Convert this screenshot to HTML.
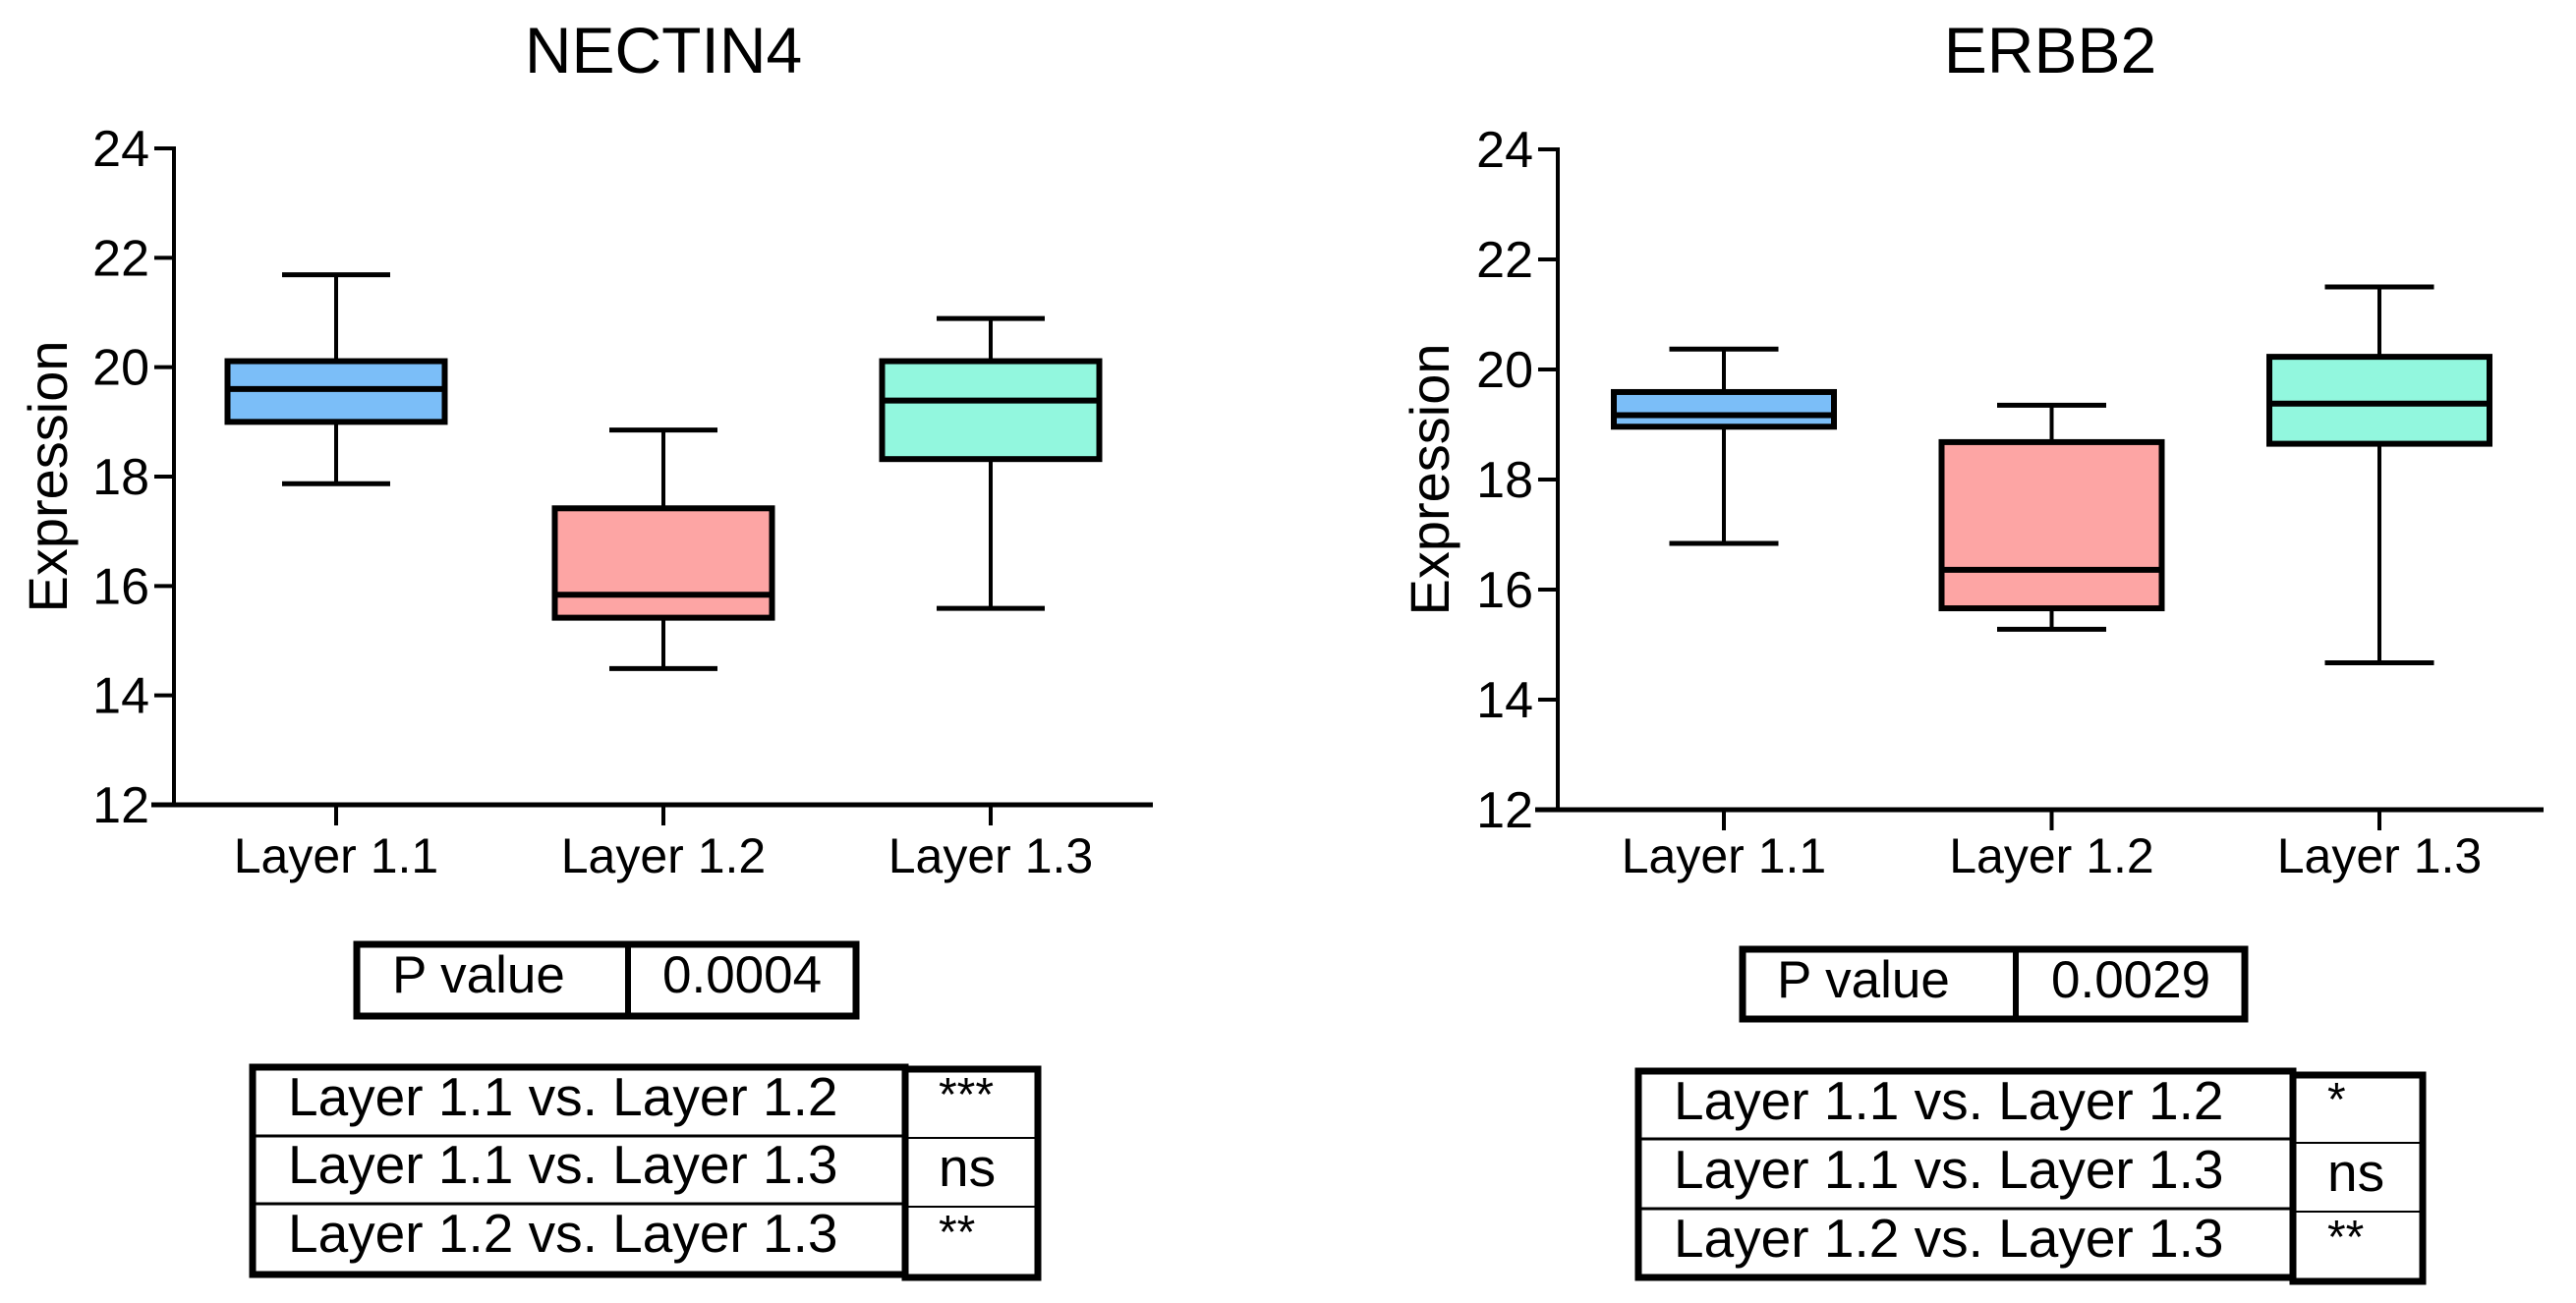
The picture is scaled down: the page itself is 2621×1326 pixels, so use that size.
<!DOCTYPE html>
<html><head><meta charset="utf-8"><style>
html,body{margin:0;padding:0;background:#fff;}
svg{display:block;font-family:"Liberation Sans",Arial,sans-serif;}
</style></head><body>
<svg id="svg" width="2621" height="1326" viewBox="0 0 2621 1326">
<g id="tables" fill="#000" font-size="53">
  <g>
    <rect x="363" y="961" width="508" height="73" fill="none" stroke="#000" stroke-width="7"/>
    <line x1="639" y1="961" x2="639" y2="1034" stroke="#000" stroke-width="6"/>
    <text x="399" y="1010">P value</text>
    <text x="674" y="1010">0.0004</text>
  </g>
  <g font-size="55">
    <rect x="257" y="1086" width="664" height="211" fill="none" stroke="#000" stroke-width="7"/>
    <rect x="921" y="1088" width="135" height="212" fill="none" stroke="#000" stroke-width="7"/>
    <line x1="257" y1="1156" x2="921" y2="1156" stroke="#000" stroke-width="3"/>
    <line x1="257" y1="1225" x2="921" y2="1225" stroke="#000" stroke-width="3"/>
    <line x1="921" y1="1158" x2="1056" y2="1158" stroke="#000" stroke-width="2"/>
    <line x1="921" y1="1228" x2="1056" y2="1228" stroke="#000" stroke-width="2"/>
    <text x="293" y="1135">Layer 1.1 vs. Layer 1.2</text>
    <text x="293" y="1204">Layer 1.1 vs. Layer 1.3</text>
    <text x="293" y="1274">Layer 1.2 vs. Layer 1.3</text>
    <text x="955" y="1130" font-size="48">***</text>
    <text x="955" y="1207">ns</text>
    <text x="955" y="1270" font-size="48">**</text>
  </g>
  <g>
    <rect x="1773" y="966" width="511" height="71" fill="none" stroke="#000" stroke-width="7"/>
    <line x1="2051" y1="966" x2="2051" y2="1037" stroke="#000" stroke-width="6"/>
    <text x="1808" y="1015">P value</text>
    <text x="2087" y="1015">0.0029</text>
  </g>
  <g font-size="55">
    <rect x="1667" y="1090" width="666" height="210" fill="none" stroke="#000" stroke-width="7"/>
    <rect x="2333" y="1094" width="132" height="210" fill="none" stroke="#000" stroke-width="7"/>
    <line x1="1667" y1="1159" x2="2333" y2="1159" stroke="#000" stroke-width="3"/>
    <line x1="1667" y1="1230" x2="2333" y2="1230" stroke="#000" stroke-width="3"/>
    <line x1="2333" y1="1163" x2="2465" y2="1163" stroke="#000" stroke-width="2"/>
    <line x1="2333" y1="1233" x2="2465" y2="1233" stroke="#000" stroke-width="2"/>
    <text x="1703" y="1139">Layer 1.1 vs. Layer 1.2</text>
    <text x="1703" y="1209">Layer 1.1 vs. Layer 1.3</text>
    <text x="1703" y="1279">Layer 1.2 vs. Layer 1.3</text>
    <text x="2368" y="1135" font-size="48">*</text>
    <text x="2368" y="1212">ns</text>
    <text x="2368" y="1275" font-size="48">**</text>
  </g>
</g>
</svg>
<script>
const categories = ["Layer 1.1", "Layer 1.2", "Layer 1.3"];
const yTicks = [12, 14, 16, 18, 20, 22, 24];
const colors = ["#7bbef8", "#fda5a4", "#92f7de"];
const nectinMin = [17.87, 14.49, 15.59];
const nectinQ1 = [19.0, 15.42, 18.32];
const nectinMedian = [19.60, 15.84, 19.39];
const nectinQ3 = [20.11, 17.42, 20.11];
const nectinMax = [21.69, 18.85, 20.89];
const erbbMin = [16.84, 15.28, 14.67];
const erbbQ1 = [18.96, 15.66, 18.65];
const erbbMedian = [19.17, 16.36, 19.38];
const erbbQ3 = [19.59, 18.68, 20.23];
const erbbMax = [20.37, 19.35, 21.50];

const NS = "http://www.w3.org/2000/svg";
const svg = document.getElementById("svg");
function mk(tag, attrs, parent) {
  const e = document.createElementNS(NS, tag);
  for (const k in attrs) e.setAttribute(k, attrs[k]);
  parent.appendChild(e);
  return e;
}
function drawPanel(cfg) {
  const g = mk("g", {}, svg);
  
  
  const yMin = 12, yMax = 24;
  const yScale = v => cfg.yBottom - (v - yMin) / (yMax - yMin) * (cfg.yBottom - cfg.yTop);
  const xScale = i => cfg.x0 + i * cfg.step;
  const t = mk("text", {x: cfg.titleX, y: 74, "font-size": 66, "text-anchor": "middle"}, g);
  t.textContent = cfg.title;
  
  
  const yl = mk("text", {x: 0, y: 0, "font-size": 56, "text-anchor": "middle", transform: `translate(${cfg.ylabX},${(cfg.yTop + cfg.yBottom) / 2}) rotate(-90)`}, g);
  yl.textContent = "Expression";
  
  
  const ya = mk("line", {x1: cfg.axisX, y1: cfg.yTop - 2, x2: cfg.axisX, y2: cfg.yBottom, stroke: "#000", "stroke-width": 4}, g);
  
  
  const xa = mk("line", {x1: cfg.axisX - 23, y1: cfg.yBottom, x2: cfg.xEnd, y2: cfg.yBottom, stroke: "#000", "stroke-width": 5}, g);
  
  
  yTicks.forEach(v => {
    const y = yScale(v);
    const tk = mk("line", {x1: cfg.axisX - 20, y1: y, x2: cfg.axisX, y2: y, stroke: "#000", "stroke-width": 4}, g);
    
    
    const lb = mk("text", {x: cfg.axisX - 25, y: y + 18, "font-size": 52, "text-anchor": "end"}, g);
    lb.textContent = v;
    
    
  });
  categories.forEach((c, i) => {
    const x = xScale(i);
    const tk = mk("line", {x1: x, y1: cfg.yBottom, x2: x, y2: cfg.yBottom + 21, stroke: "#000", "stroke-width": 4}, g);
    
    
    const lb = mk("text", {x: x, y: 888, "font-size": 50, "text-anchor": "middle"}, g);
    lb.textContent = c;
    
    
    const bw = cfg.boxW, cw = cfg.capW;
    const bg = mk("g", {}, g);
    
    
    const ymax = yScale(cfg.max[i]), ymin = yScale(cfg.min[i]);
    const yq3 = yScale(cfg.q3[i]), yq1 = yScale(cfg.q1[i]), ymed = yScale(cfg.med[i]);
    mk("line", {x1: x, y1: ymax, x2: x, y2: yq3, stroke: "#000", "stroke-width": 4}, bg);
    mk("line", {x1: x, y1: yq1, x2: x, y2: ymin, stroke: "#000", "stroke-width": 4}, bg);
    mk("line", {x1: x - cw / 2, y1: ymax, x2: x + cw / 2, y2: ymax, stroke: "#000", "stroke-width": 5}, bg);
    mk("line", {x1: x - cw / 2, y1: ymin, x2: x + cw / 2, y2: ymin, stroke: "#000", "stroke-width": 5}, bg);
    mk("rect", {x: x - bw / 2, y: yq3, width: bw, height: yq1 - yq3, fill: colors[i], stroke: "#000", "stroke-width": 6}, bg);
    mk("line", {x1: x - bw / 2, y1: ymed, x2: x + bw / 2, y2: ymed, stroke: "#000", "stroke-width": 6}, bg);
  });
}
drawPanel({name: "nectin4-chart", title: "NECTIN4", titleX: 675, ylabX: 68, axisX: 177, xEnd: 1173,
  yTop: 151, yBottom: 819, x0: 342, step: 333, boxW: 221, capW: 110,
  min: nectinMin, q1: nectinQ1, med: nectinMedian, q3: nectinQ3, max: nectinMax});
drawPanel({name: "erbb2-chart", title: "ERBB2", titleX: 2086, ylabX: 1474, axisX: 1585, xEnd: 2588,
  yTop: 152, yBottom: 824, x0: 1754, step: 333.5, boxW: 224, capW: 111,
  min: erbbMin, q1: erbbQ1, med: erbbMedian, q3: erbbQ3, max: erbbMax});
</script>
</body></html>
